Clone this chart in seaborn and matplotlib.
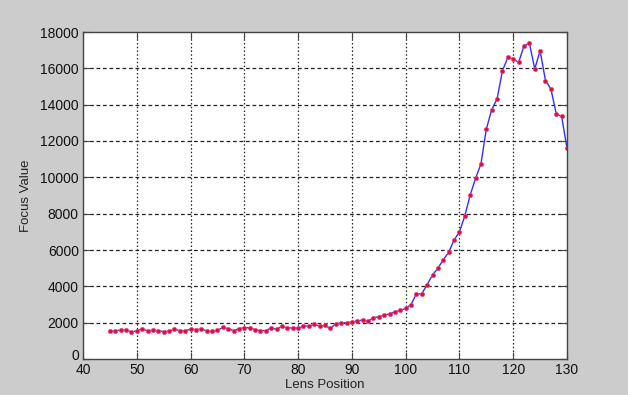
import matplotlib
matplotlib.use("Agg")
import matplotlib.pyplot as plt
import matplotlib.transforms as mtransforms
import seaborn as sns
import pandas as pd
import numpy as np

lens_position = list(range(45, 131))
focus_value = [
    1530, 1540, 1600, 1620, 1470, 1560, 1660, 1550, 1580, 1550,   # 45-54
    1510, 1530, 1640, 1560, 1560, 1640, 1620, 1640, 1550, 1520,   # 55-64
    1570, 1740, 1670, 1560, 1670, 1720, 1720, 1610, 1560, 1560,   # 65-74
    1720, 1630, 1800, 1710, 1710, 1700, 1800, 1820, 1900, 1810,   # 75-84
    1850, 1680, 1940, 1980, 2000, 2040, 2090, 2150, 2080, 2270,   # 85-94
    2330, 2400, 2490, 2600, 2670, 2780, 3000, 3580, 3590, 4100,   # 95-104
    4630, 5000, 5470, 5870, 6550, 7000, 7880, 9030, 9940, 10745,  # 105-114
    12660, 13720, 14320, 15870, 16600, 16510, 16330, 17220, 17405, 15965,  # 115-124
    16970, 15325, 14870, 13500, 13354, 11600,                     # 125-130
]
x_ticks = [40, 50, 60, 70, 80, 90, 100, 110, 120, 130]
y_ticks = [0, 2000, 4000, 6000, 8000, 10000, 12000, 14000, 16000, 18000]

df = pd.DataFrame({"Lens Position": lens_position, "Focus Value": focus_value})

sns.set_theme(style="white")
plt.rcParams["font.family"] = ["Liberation Sans", "DejaVu Sans"]

fig = plt.figure(figsize=(6.28, 3.95), dpi=100, facecolor="#cccccc")
ax = fig.add_axes([83/628, 1-359/395, (567-83)/628, (359-32)/395])
ax.set_facecolor("white")

sns.lineplot(data=df, x="Lens Position", y="Focus Value", ax=ax,
             color="#3030ff", linewidth=1.0, marker="o", markersize=3.0,
             markerfacecolor="#d8103a", markeredgecolor="#ff4080",
             markeredgewidth=0.5)

ax.set_xlim(40, 130)
ax.set_ylim(0, 18000)
ax.set_xticks(x_ticks)
ax.set_yticks(y_ticks)
ax.set_xticklabels([str(t) for t in x_ticks])
ax.set_yticklabels([str(t) for t in y_ticks])

for t in x_ticks[1:-1]:
    ax.axvline(t, color="#222222", lw=0.9, ls=(0, (1.2, 1.8)), zorder=0.5)
for t in y_ticks[1:-1]:
    ax.axhline(t, color="#222222", lw=0.9, ls=(0, (3, 2.2)), zorder=0.5)

for s in ax.spines.values():
    s.set_visible(True)
    s.set_color("#444444")
    s.set_linewidth(1.0)

ax.tick_params(axis="both", which="both", direction="in", length=5,
               width=0.8, color="#444444", labelsize=10, labelcolor="#111111",
               top=True, right=True, bottom=True, left=True, pad=3)
ax.set_xlabel("Lens Position", fontsize=9.5, color="#222222", labelpad=1)
ax.set_ylabel("Focus Value", fontsize=9.5, color="#222222", labelpad=6)

# lift the "0" y-label slightly, as in the reference
fig.canvas.draw()
zero_lbl = ax.get_yticklabels()[0]
zero_lbl.set_transform(zero_lbl.get_transform() +
                       mtransforms.ScaledTranslation(0, 5/100, fig.dpi_scale_trans))

fig.savefig("out.png", dpi=100, facecolor=fig.get_facecolor())
